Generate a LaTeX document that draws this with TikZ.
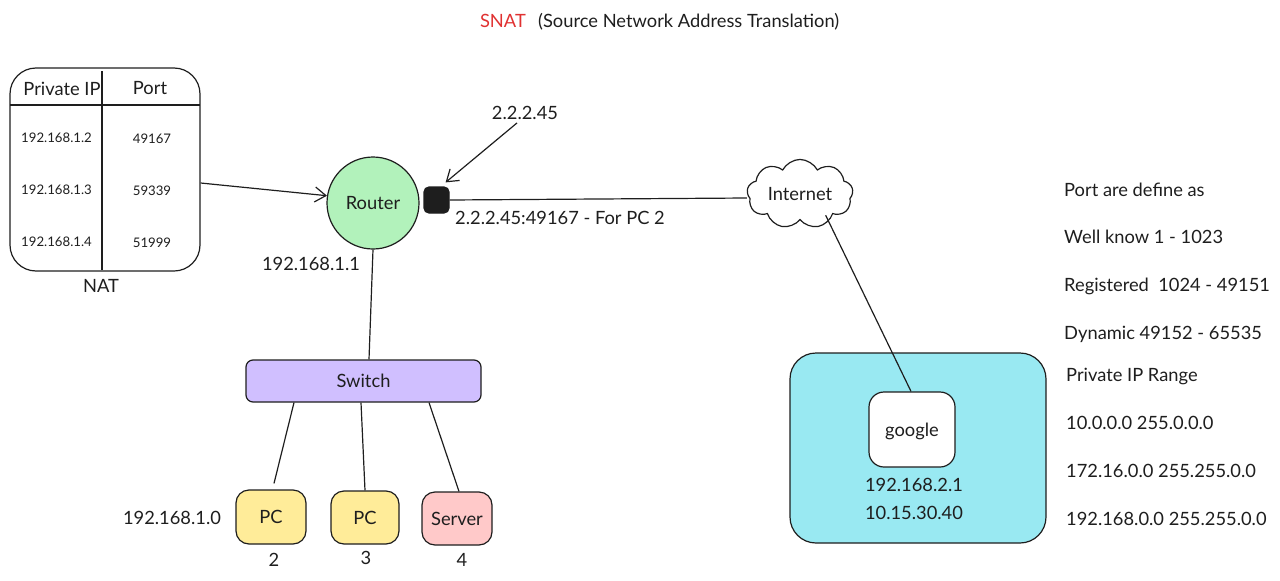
\documentclass[tikz,border=0pt]{standalone}
\usepackage{fontspec}
\setmainfont{Lato}
\usetikzlibrary{arrows.meta,shapes.symbols}
\definecolor{ink}{HTML}{1E1E1E}
\definecolor{routergreen}{HTML}{B2F2BB}
\definecolor{switchpurple}{HTML}{D0BFFF}
\definecolor{pcyellow}{HTML}{FFEC99}
\definecolor{serverred}{HTML}{FFC9C9}
\definecolor{hostblue}{HTML}{99E9F2}
\definecolor{snatred}{HTML}{E03131}
\tikzset{
    txt/.style={text=ink,font=\fontsize{18.3}{22}\selectfont,inner sep=0pt,text height=13.5pt,text depth=0pt},
    small/.style={text=ink,font=\fontsize{13.2}{16}\selectfont,inner sep=0pt},
    box/.style={draw=ink,line width=1.2pt,rounded corners=#1,inner sep=0pt,txt},
    box/.default=13pt,
    link/.style={draw=ink,line width=1.2pt},
    barb/.style={link,-{Straight Barb[length=11pt,width=15pt,line width=1.2pt]}}
}
\begin{document}
\begin{tikzpicture}[x=1pt,y=-1pt]
    \useasboundingbox (0,0) rectangle (1280,581);
    \node[anchor=east,txt,text=snatred] (snat) at (526,21) {SNAT};
    \node[anchor=west,txt] (title) at (538,21) {(Source Network Address Translation)};

    \node[box=26pt,minimum width=190pt,minimum height=203pt] (nat) at (105,169.5) {};
    \draw[link] (10,105) -- (200,105);
    \draw[link] (102,71) -- (102,270);
    \node[txt] (iphead) at (62,89) {Private IP};
    \node[txt] (porthead) at (150,88) {Port};
    \foreach \y/\ip/\port in {138/192.168.1.2/49167,190/192.168.1.3/59339,242/192.168.1.4/51999} {
        \node[small] (ip\y) at (56.5,\y) {\ip};
        \node[small] (port\y) at (152,\y+1) {\port};
    }
    \node[txt] (natlabel) at (101,286) {NAT};

    \node[circle,draw=ink,fill=routergreen,line width=1.2pt,minimum size=92pt,inner sep=0pt,txt] (router) at (373,203) {Router};
    \node[box=5pt,fill=ink,minimum width=25pt,minimum height=26pt] (wan) at (436.5,200) {};
    \node[txt] (wanip) at (525,113) {2.2.2.45};
    \node[txt,anchor=west] (wanmap) at (455,218) {2.2.2.45:49167 - For PC 2};
    \node[txt] (lanip) at (311,264) {192.168.1.1};

    \node[cloud,cloud puffs=9,cloud puff arc=125,aspect=1.7,draw=ink,line width=1.2pt,minimum width=106pt,minimum height=68pt,inner sep=0pt,txt] (internet) at (800,194) {Internet};

    \node[box=7pt,fill=switchpurple,minimum width=235pt,minimum height=42pt] (switch) at (363.5,381) {Switch};
    \node[box,fill=pcyellow,minimum width=70pt,minimum height=54pt] (pc2) at (271,517) {PC};
    \node[box,fill=pcyellow,minimum width=68pt,minimum height=53pt] (pc3) at (365,517.5) {PC};
    \node[box,fill=serverred,minimum width=70pt,minimum height=53pt] (server) at (457,518.5) {Server};
    \node[txt] (pc2ip) at (172,518) {192.168.1.0};
    \node[txt] (pc2num) at (274,560) {2};
    \node[txt] (pc3num) at (366,558) {3};
    \node[txt] (servernum) at (462,560) {4};

    \node[box=26pt,fill=hostblue,minimum width=256pt,minimum height=190pt] (host) at (918,448) {};
    \node[box=15pt,fill=white,minimum width=86pt,minimum height=75pt] (google) at (912,429.5) {google};
    \node[txt] (googleip) at (914,485) {192.168.2.1};
    \node[txt] (googlepub) at (914,513) {10.15.30.40};

    \draw[barb] ([yshift=-13.5pt]nat.east) -- (router.171);
    \draw[barb] (wanip.south) ++(-8,3) -- ([xshift=-4pt,yshift=4pt]wan.north east);
    \draw[link] (wan.east) -- ([yshift=-4pt]internet.west);
    \draw[link] (internet.south east) ++(-7,0) -- ([xshift=-1pt]google.north);
    \draw[link] (router.south) -- ([xshift=5.5pt]switch.north);
    \draw[link] ([xshift=-69.5pt]switch.south) -- ([xshift=3pt,yshift=6pt]pc2.north);
    \draw[link] ([xshift=-2.5pt]switch.south) -- (pc3.north);
    \draw[link] ([xshift=65.5pt]switch.south) -- ([xshift=2pt]server.north);

    \foreach \y/\info in {190/Port are define as,237/Well know 1 - 1023,285/Registered\ \ 1024 - 49151,333/Dynamic 49152 - 65535}
        \node[txt,anchor=west] (port\y) at (1064,\y) {\info};
    \foreach \y/\info in {375/Private IP Range,423/10.0.0.0 255.0.0.0,471/172.16.0.0 255.255.0.0,519/192.168.0.0 255.255.0.0}
        \node[txt,anchor=west] (range\y) at (1066,\y) {\info};
\end{tikzpicture}
\end{document}
